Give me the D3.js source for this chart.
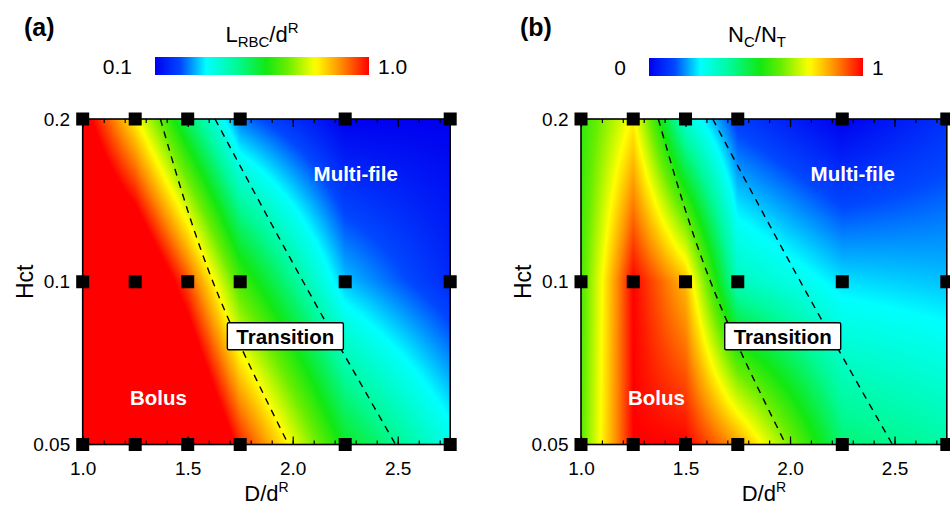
<!DOCTYPE html>
<html><head><meta charset="utf-8">
<script src="https://cdn.jsdelivr.net/npm/d3@7"></script>
<style>
body{margin:0;background:#fff}
svg{display:block}
text{font-family:"Liberation Sans",Arial,Helvetica,sans-serif;fill:#000}
</style>
</head><body>
<svg id="chart" width="950" height="507"></svg>
<script>
// ---------------- data ----------------
const dValues = [1.0, 1.25, 1.5, 1.75, 2.25, 2.75];      // D/d^R
const hctValues = [0.05, 0.1, 0.2];                        // Hct
// panel (a): L_RBC/d^R, rows = Hct 0.05, 0.1, 0.2
const lengthRatio = [
  [1.27, 1.27, 1.27, 0.973, 0.55, 0.343],
  [1.27, 1.198, 0.937, 0.622, 0.28, 0.163],
  [1.045, 0.784, 0.496, 0.235, 0.10, 0.10]
];
// panel (b): N_C/N_T
const cellFraction = [
  [0.60, 1.00, 1.00, 0.85, 0.42, 0.36],
  [0.58, 1.00, 0.82, 0.33, 0.22, 0.20],
  [0.55, 0.76, 0.30, 0.10, 0.00, 0.08]
];
// regime boundaries (dashed lines): D/d^R at each Hct
const boundaryHct = [0.2, 0.1, 0.05];
const boundaryLower = [1.37, 1.62, 1.98];
const boundaryUpper = [1.63, 2.05, 2.49];
const xMajorTicks = [1.0, 1.5, 2.0, 2.5];
const xMinorTicks = d3.range(10, 28).map(d => d / 10);
const yTicks = [0.05, 0.1, 0.2];
const yTickLabels = ["0.05", "0.1", "0.2"];
const colorbarA = {min: 0.1, max: 1.0, labels: ["0.1", "1.0"]};
const colorbarB = {min: 0, max: 1, labels: ["0", "1"]};

// ---------------- style ----------------
const FONT = '"Liberation Sans",Arial,Helvetica,sans-serif';
const cStops = [0, 0.12, 0.24, 0.38, 0.52, 0.62, 0.75, 0.87, 1];
const cCols = ["#0000f0", "#0048ff", "#00ffff", "#00fa98", "#12e812", "#6aee00", "#ffff00", "#ff8c00", "#ff0000"];
const jet = d3.scaleLinear().domain(cStops).range(cCols).interpolate(d3.interpolateRgb).clamp(true);

const svg = d3.select("#chart");
const y = d3.scaleLog().domain([0.05, 0.2]).range([444.5, 119]);

const panels = [
  {id: "a", values: lengthRatio, cb: colorbarA, x: d3.scaleLinear().domain([1.0, 2.75]).range([82.7, 450.2]),
   cbX: [155, 369], cbY: 57, titleX: 262},
  {id: "b", values: cellFraction, cb: colorbarB, x: d3.scaleLinear().domain([1.0, 2.75]).range([581, 946.8]),
   cbX: [649, 863], cbY: 58, titleX: 757}
];

const logH = hctValues.map(Math.log);
function field(values, D, H) {
  let i = d3.bisectRight(dValues, D) - 1;
  i = Math.max(0, Math.min(dValues.length - 2, i));
  const u = (D - dValues[i]) / (dValues[i + 1] - dValues[i]);
  const lh = Math.log(H);
  let j = d3.bisectRight(logH, lh) - 1;
  j = Math.max(0, Math.min(logH.length - 2, j));
  const w = (lh - logH[j]) / (logH[j + 1] - logH[j]);
  const v00 = values[j][i], v10 = values[j][i + 1], v01 = values[j + 1][i], v11 = values[j + 1][i + 1];
  return (1 - w) * ((1 - u) * v00 + u * v10) + w * ((1 - u) * v01 + u * v11);
}

const defs = svg.append("defs");

panels.forEach(p => {
  const g = svg.append("g");
  const x = p.x;
  const [x0, x1] = x.range();
  const [yb, yt] = y.range();
  const W = Math.round(x1 - x0), H = Math.round(yb - yt);
  const tScale = d3.scaleLinear().domain([p.cb.min, p.cb.max]).range([0, 1]);
  // heat field
  const canvas = document.createElement("canvas");
  canvas.width = W; canvas.height = H;
  const ctx = canvas.getContext("2d");
  const img = ctx.createImageData(W, H);
  for (let py = 0; py < H; py++) {
    const hv = y.invert(yt + py + 0.5);
    for (let px = 0; px < W; px++) {
      const dv = x.invert(x0 + px + 0.5);
      const c = d3.rgb(jet(tScale(field(p.values, dv, hv))));
      const k = (py * W + px) * 4;
      img.data[k] = c.r; img.data[k + 1] = c.g; img.data[k + 2] = c.b; img.data[k + 3] = 255;
    }
  }
  ctx.putImageData(img, 0, 0);
  g.append("image").attr("x", x0).attr("y", yt).attr("width", x1 - x0).attr("height", yb - yt)
    .attr("preserveAspectRatio", "none").attr("href", canvas.toDataURL());

  // dashed boundaries
  const line = d3.line().x(d => x(d[1])).y(d => y(d[0])).curve(d3.curveMonotoneY);
  [boundaryLower, boundaryUpper].forEach(b => {
    g.append("path").datum(boundaryHct.map((h, k) => [h, b[k]]))
      .attr("d", line).attr("fill", "none").attr("stroke", "#000")
      .attr("stroke-width", 1.4).attr("stroke-dasharray", "7,6");
  });

  // axes
  const bottomMajor = d3.axisBottom(x).tickValues(xMajorTicks).tickSizeInner(-8).tickSizeOuter(0)
    .tickPadding(17).tickFormat(d3.format(".1f"));
  const gb = g.append("g").attr("transform", `translate(0,${yb})`).call(bottomMajor);
  gb.selectAll("text").style("font-size", "19px").style("font-family", FONT);
  const bottomMinor = d3.axisBottom(x).tickValues(xMinorTicks).tickSizeInner(-4).tickSizeOuter(0).tickFormat("");
  g.append("g").attr("transform", `translate(0,${yb})`).call(bottomMinor);
  g.append("g").attr("transform", `translate(0,${yt})`)
    .call(d3.axisTop(x).tickValues(xMajorTicks).tickSizeInner(-8).tickSizeOuter(0).tickFormat(""));
  g.append("g").attr("transform", `translate(0,${yt})`)
    .call(d3.axisTop(x).tickValues(xMinorTicks).tickSizeInner(-4).tickSizeOuter(0).tickFormat(""));
  const gl = g.append("g").attr("transform", `translate(${x0},0)`)
    .call(d3.axisLeft(y).tickValues(yTicks).tickSize(0).tickPadding(12.5)
      .tickFormat((d, k) => yTickLabels[k]));
  gl.selectAll("text").style("font-size", "19px").style("font-family", FONT);
  g.selectAll(".domain").remove();
  g.selectAll(".tick line").attr("stroke", "#000").attr("stroke-width", 1.2);

  // frame
  g.append("rect").attr("x", x0).attr("y", yt).attr("width", x1 - x0).attr("height", yb - yt)
    .attr("fill", "none").attr("stroke", "#000").attr("stroke-width", 1.6);

  // markers
  const pts = [];
  hctValues.forEach(h => dValues.forEach(d => pts.push([d, h])));
  g.selectAll("rect.m").data(pts).join("rect").attr("class", "m")
    .attr("x", d => x(d[0]) - 6.5).attr("y", d => y(d[1]) - 6.5)
    .attr("width", 13).attr("height", 13).attr("fill", "#000");

  // region labels
  g.append("text").attr("x", x(1.361)).attr("y", y(0.0611)).attr("dy", "0.36em")
    .attr("text-anchor", "middle").style("font-size", "20.5px").style("font-weight", "bold")
    .style("fill", "#fff").text("Bolus");
  g.append("text").attr("x", x(2.30)).attr("y", y(0.1588)).attr("dy", "0.36em")
    .attr("text-anchor", "middle").style("font-size", "20.5px").style("font-weight", "bold")
    .style("fill", "#fff").text("Multi-file");
  const tx = x(1.965), ty = y(0.0793);
  g.append("rect").attr("x", tx - 58).attr("y", ty - 13.5).attr("width", 116).attr("height", 27)
    .attr("fill", "#fff").attr("stroke", "#000").attr("stroke-width", 1.4).attr("rx", 1.5);
  g.append("text").attr("x", tx).attr("y", ty).attr("dy", "0.36em")
    .attr("text-anchor", "middle").style("font-size", "20.5px").style("font-weight", "bold")
    .text("Transition");

  // axis titles
  const xt = g.append("text").attr("x", (x0 + x1) / 2).attr("y", 501).attr("text-anchor", "middle")
    .style("font-size", "22px");
  xt.append("tspan").text("D/d");
  xt.append("tspan").attr("dy", -9).style("font-size", "14px").text("R");
  g.append("text").attr("transform", `translate(${x0 - 50},${(yt + yb) / 2}) rotate(-90)`)
    .attr("text-anchor", "middle").style("font-size", "23px").text("Hct");

  // panel letter
  svg.append("text").attr("x", p.id === "a" ? 24 : 520).attr("y", 36)
    .style("font-size", "25px").style("font-weight", "bold").text(`(${p.id})`);

  // colorbar
  const gid = "grad" + p.id;
  const grad = defs.append("linearGradient").attr("id", gid).attr("x1", "0%").attr("x2", "100%");
  d3.range(0, 1.0001, 0.02).forEach(t => grad.append("stop").attr("offset", (t * 100) + "%").attr("stop-color", jet(t)));
  const cbScale = d3.scaleLinear().domain([p.cb.min, p.cb.max]).range(p.cbX);
  svg.append("rect").attr("x", cbScale(p.cb.min)).attr("y", p.cbY).attr("width", cbScale(p.cb.max) - cbScale(p.cb.min))
    .attr("height", 18).attr("fill", `url(#${gid})`);
  svg.append("text").attr("x", cbScale(p.cb.min) - 23).attr("y", p.cbY + 9).attr("dy", "0.36em")
    .attr("text-anchor", "end").style("font-size", "21px").text(p.cb.labels[0]);
  svg.append("text").attr("x", cbScale(p.cb.max) + 9).attr("y", p.cbY + 9).attr("dy", "0.36em")
    .attr("text-anchor", "start").style("font-size", "21px").text(p.cb.labels[1]);
  const tt = svg.append("text").attr("x", p.titleX).attr("y", 42).attr("text-anchor", "middle").style("font-size", "22px");
  if (p.id === "a") {
    tt.append("tspan").text("L");
    tt.append("tspan").attr("dy", 5).style("font-size", "15px").text("RBC");
    tt.append("tspan").attr("dy", -5).text("/d");
    tt.append("tspan").attr("dy", -9).style("font-size", "15px").text("R");
  } else {
    tt.append("tspan").text("N");
    tt.append("tspan").attr("dy", 5).style("font-size", "15px").text("C");
    tt.append("tspan").attr("dy", -5).text("/N");
    tt.append("tspan").attr("dy", 5).style("font-size", "15px").text("T");
  }
});
</script>
</body></html>
